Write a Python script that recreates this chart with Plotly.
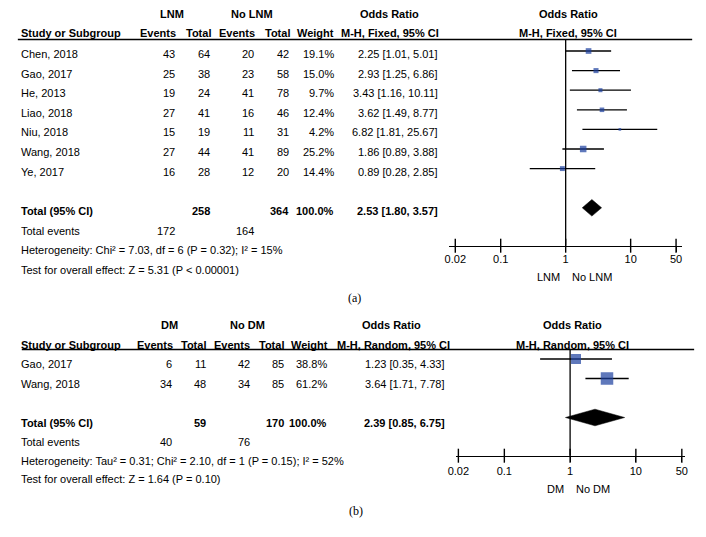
import math
import plotly.graph_objects as go

W, H = 706, 537
SANS = "Liberation Sans, Arial, sans-serif"
SERIF = "Liberation Serif, Times New Roman, serif"
BLUE = "#1b3e9e"

# ---------------- Panel (a) data ----------------
studies_a = ["Chen, 2018", "Gao, 2017", "He, 2013", "Liao, 2018", "Niu, 2018", "Wang, 2018", "Ye, 2017"]
lnm_events = [43, 25, 19, 27, 15, 27, 16]
lnm_total = [64, 38, 24, 41, 19, 44, 28]
nolnm_events = [20, 23, 41, 16, 11, 41, 12]
nolnm_total = [42, 58, 78, 46, 31, 89, 20]
weight_a = [19.1, 15.0, 9.7, 12.4, 4.2, 25.2, 14.4]
or_a = [2.25, 2.93, 3.43, 3.62, 6.82, 1.86, 0.89]
lo_a = [1.01, 1.25, 1.16, 1.49, 1.81, 0.89, 0.28]
hi_a = [5.01, 6.86, 10.11, 8.77, 25.67, 3.88, 2.85]
total_n_a = [258, 364]
total_events_a = [172, 164]
total_est_a = [2.53, 1.80, 3.57]
het_a = "Heterogeneity: Chi² = 7.03, df = 6 (P = 0.32); I² = 15%"
test_a = "Test for overall effect: Z = 5.31 (P < 0.00001)"

# ---------------- Panel (b) data ----------------
studies_b = ["Gao, 2017", "Wang, 2018"]
dm_events = [6, 34]
dm_total = [11, 48]
nodm_events = [42, 34]
nodm_total = [85, 85]
weight_b = [38.8, 61.2]
or_b = [1.23, 3.64]
lo_b = [0.35, 1.71]
hi_b = [4.33, 7.78]
total_n_b = [59, 170]
total_events_b = [40, 76]
total_est_b = [2.39, 0.85, 6.75]
het_b = "Heterogeneity: Tau² = 0.31; Chi² = 2.10, df = 1 (P = 0.15); I² = 52%"
test_b = "Test for overall effect: Z = 1.64 (P = 0.10)"

tick_vals = [0.02, 0.1, 1, 10, 50]
tick_text = ["0.02", "0.1", "1", "10", "50"]

fig = go.Figure()
annotations = []
shapes = []
FS = 11


def px_x(x):
    return x / W


def px_y(y):
    return 1 - y / H


def ann(text, x, y, xanchor, yref="paper", bold=False, size=FS, family=SANS, yshift=0):
    annotations.append(dict(
        text=f"<b>{text}</b>" if bold else text,
        x=px_x(x), xref="paper", y=y, yref=yref,
        xanchor=xanchor, yanchor="middle", showarrow=False, yshift=yshift,
        font=dict(family=family, size=size, color="black"),
    ))


def panel(key, names, ev1, tot1, ev2, tot2, weights, est, lo, hi,
          tot_n, tot_ev, tot_est, het, test, grp1, grp2, method,
          xdom, center_px, decade_px, ydom, g0, gs, tshift, cols, hdr, sq_k, lab1, lab2,
          line_x, cap, cap_xy, lab_px, foot_px, standoff):
    xname = "xaxis" if key == "" else "xaxis" + key
    yname = "yaxis" if key == "" else "yaxis" + key
    xref = "x" + key
    yref = "y" + key
    top_px, bot_px = ydom
    r_top = (top_px - g0) / gs
    r_bot = (bot_px - g0) / gs
    lrange = [-(center_px - xdom[0]) / decade_px, (xdom[1] - center_px) / decade_px]
    fig.update_layout(**{
        xname: dict(type="log", domain=[px_x(xdom[0]), px_x(xdom[1])], range=lrange,
                    anchor=yref, tickvals=tick_vals, ticktext=tick_text,
                    ticks="outside", ticklen=5, tickwidth=1.4, tickcolor="black",
                    showline=True, linecolor="black", linewidth=1.4,
                    showgrid=False, zeroline=False, ticklabelstandoff=standoff,
                    tickfont=dict(family=SANS, size=FS, color="black")),
        yname: dict(domain=[px_y(bot_px), px_y(top_px)], range=[r_bot, r_top],
                    anchor=xref, visible=False, showgrid=False, zeroline=False),
    })
    n = len(names)
    rows = list(range(n))
    r_total = n + 1
    # vertical line of no effect
    fig.add_trace(go.Scatter(x=[1, 1], y=[r_top, r_bot], mode="lines",
                             line=dict(color="black", width=1.3), xaxis=xref, yaxis=yref,
                             cliponaxis=False, hoverinfo="skip"))
    # ticks crossing the axis
    fig.add_trace(go.Scatter(x=tick_vals, y=[r_bot] * len(tick_vals), mode="markers",
                             marker=dict(symbol="line-ns", size=10, line=dict(color="black", width=1.4)),
                             xaxis=xref, yaxis=yref, cliponaxis=False, hoverinfo="skip"))
    # CI lines
    cx, cy = [], []
    for r, a, b in zip(rows, lo, hi):
        cx += [a, b, None]
        cy += [r, r, None]
    fig.add_trace(go.Scatter(x=cx, y=cy, mode="lines", line=dict(color="black", width=1.3),
                             xaxis=xref, yaxis=yref, cliponaxis=False, hoverinfo="skip"))
    # squares
    fig.add_trace(go.Scatter(x=est, y=rows, mode="markers",
                             marker=dict(symbol="square", color=BLUE,
                                         size=[sq_k * math.sqrt(w) for w in weights],
                                         line=dict(width=0)),
                             xaxis=xref, yaxis=yref, cliponaxis=False, hoverinfo="skip"))
    # diamond
    e, l, h = tot_est
    dh = 8.3 / gs
    fig.add_trace(go.Scatter(x=[l, e, h, e, l], y=[r_total, r_total - dh, r_total, r_total + dh, r_total],
                             mode="lines", fill="toself", fillcolor="black",
                             line=dict(color="black", width=0.5),
                             xaxis=xref, yaxis=yref, cliponaxis=False, hoverinfo="skip"))

    # header
    h1, h2 = hdr
    ann(grp1, cols["g1"], px_y(h1), "center", bold=True)
    ann(grp2, cols["g2"], px_y(h1), "center", bold=True)
    ann("Odds Ratio", cols["orh"], px_y(h1), "center", bold=True)
    ann("Odds Ratio", cols["fh"], px_y(h1), "center", bold=True)
    ann("Study or Subgroup", cols["name"], px_y(h2), "left", bold=True)
    ann("Events", cols["ev1h"], px_y(h2), "right", bold=True)
    ann("Total", cols["tot1h"], px_y(h2), "right", bold=True)
    ann("Events", cols["ev2h"], px_y(h2), "right", bold=True)
    ann("Total", cols["tot2h"], px_y(h2), "right", bold=True)
    ann("Weight", cols["wh"], px_y(h2), "right", bold=True)
    ann(method, cols["mh"], px_y(h2), "right", bold=True)
    ann(method, cols["fh"], px_y(h2), "center", bold=True)
    shapes.append(dict(type="line", xref="paper", yref="paper",
                       x0=px_x(line_x[0]), x1=px_x(line_x[1]), y0=px_y(top_px), y1=px_y(top_px),
                       line=dict(color="black", width=1.5)))

    # study rows
    for r, nm, a1, b1, a2, b2, w, o, l_, h_ in zip(rows, names, ev1, tot1, ev2, tot2, weights, est, lo, hi):
        ann(nm, cols["name"], r, "left", yref=yref, yshift=tshift)
        ann(str(a1), cols["ev1"], r, "right", yref=yref, yshift=tshift)
        ann(str(b1), cols["tot1"], r, "right", yref=yref, yshift=tshift)
        ann(str(a2), cols["ev2"], r, "right", yref=yref, yshift=tshift)
        ann(str(b2), cols["tot2"], r, "right", yref=yref, yshift=tshift)
        ann(f"{w:.1f}%", cols["w"], r, "right", yref=yref, yshift=tshift)
        ann(f"{o:.2f} [{l_:.2f}, {h_:.2f}]", cols["or"], r, "right", yref=yref, yshift=tshift)

    # total rows
    ann("Total (95% CI)", cols["name"], r_total, "left", yref=yref, yshift=tshift, bold=True)
    ann(str(tot_n[0]), cols["tot1"], r_total, "right", yref=yref, yshift=tshift, bold=True)
    ann(str(tot_n[1]), cols["tot2"], r_total, "right", yref=yref, yshift=tshift, bold=True)
    ann(f"{sum(weights):.1f}%", cols["w"], r_total, "right", yref=yref, yshift=tshift, bold=True)
    ann(f"{e:.2f} [{l:.2f}, {h:.2f}]", cols["or"], r_total, "right", yref=yref, yshift=tshift, bold=True)
    ann("Total events", cols["name"], px_y(foot_px[0]), "left")
    ann(str(tot_ev[0]), cols["ev1"], px_y(foot_px[0]), "right")
    ann(str(tot_ev[1]), cols["ev2"], px_y(foot_px[0]), "right")
    ann(het, cols["name"], px_y(foot_px[1]), "left")
    ann(test, cols["name"], px_y(foot_px[2]), "left")

    # favours labels
    ann(lab1, center_px - 4, px_y(lab_px), "right")
    ann(lab2, center_px + 4, px_y(lab_px), "left")
    # caption
    ann(cap, cap_xy[0], px_y(cap_xy[1]), "center", family=SERIF, size=12)


cols_a = dict(g1=167, g2=248, orh=388, fh=569, name=11,
              ev1h=173, tot1h=208, ev2h=253, tot2h=288, wh=333, mh=440,
              ev1=172, tot1=207, ev2=252, tot2=287, w=333, **{"or": 439})
cols_b = dict(g1=164, g2=243, orh=390, fh=573, name=11,
              ev1h=170, tot1h=203, ev2h=248, tot2h=282, wh=327, mh=451,
              ev1=169, tot1=203, ev2=248, tot2=282, w=326, **{"or": 446})

panel("", studies_a, lnm_events, lnm_total, nolnm_events, nolnm_total, weight_a, or_a, lo_a, hi_a,
      total_n_a, total_events_a, total_est_a, het_a, test_a, "LNM", "No LNM", "M-H, Fixed, 95% CI",
      xdom=(448, 685), center_px=566.5, decade_px=66.0, ydom=(39.5, 245.7), g0=51, gs=19.6, tshift=-3,
      cols=cols_a, hdr=(14.5, 33.5), sq_k=1.3, lab1="LNM", lab2="No LNM",
      line_x=(10, 695), cap="(a)", cap_xy=(352, 298), lab_px=277, foot_px=(231, 250, 270), standoff=-2)

panel("2", studies_b, dm_events, dm_total, nodm_events, nodm_total, weight_b, or_b, lo_b, hi_b,
      total_n_b, total_events_b, total_est_b, het_b, test_b, "DM", "No DM", "M-H, Random, 95% CI",
      xdom=(455, 688), center_px=571, decade_px=66.8, ydom=(349.5, 455.7), g0=359, gs=19.5, tshift=-5,
      cols=cols_b, hdr=(325, 344.5), sq_k=1.6, lab1="DM", lab2="No DM",
      line_x=(14, 697), cap="(b)", cap_xy=(354, 511), lab_px=489, foot_px=(442, 461, 479), standoff=0)

fig.update_layout(width=W, height=H, margin=dict(l=0, r=0, t=0, b=0),
                  paper_bgcolor="white", plot_bgcolor="white", showlegend=False,
                  annotations=annotations, shapes=shapes)

fig.write_html("out.html", config={"displayModeBar": False},
               post_script="document.body.style.margin='0';")
